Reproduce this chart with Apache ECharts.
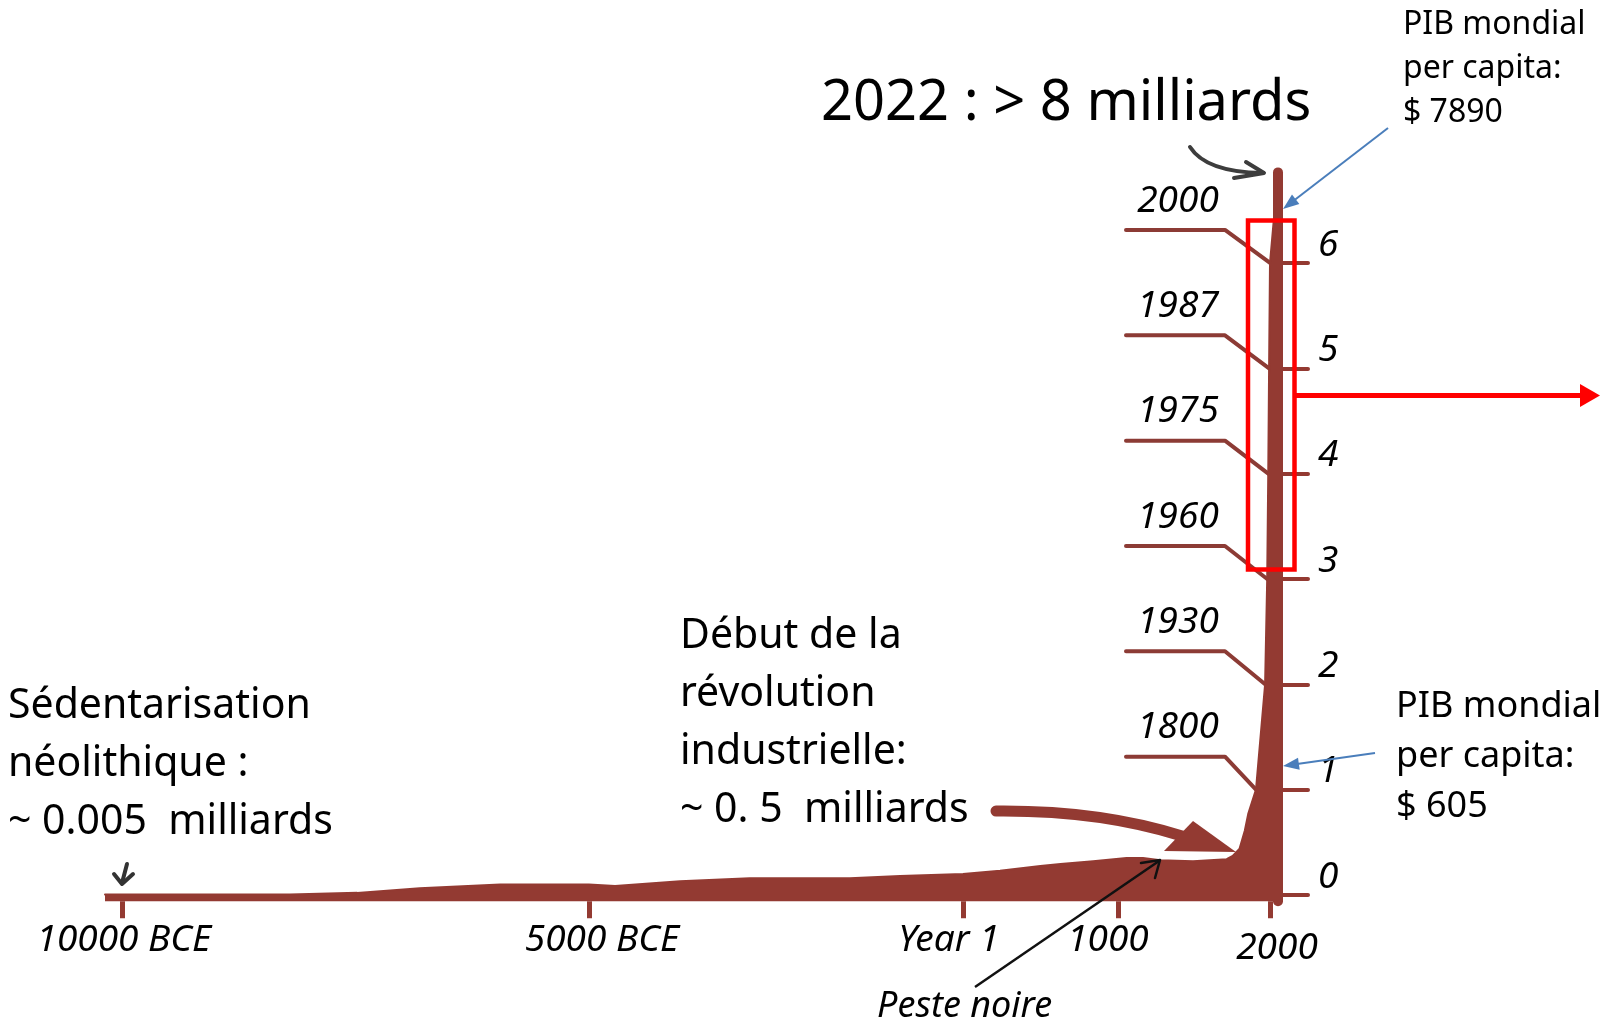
<!DOCTYPE html>
<html>
<head>
<meta charset="utf-8">
<title>Population mondiale</title>
<script src="https://cdn.jsdelivr.net/npm/echarts@6/dist/echarts.min.js"></script>
<style>
  html, body { margin: 0; padding: 0; background: #fff; }
  #chart { width: 1600px; height: 1022px; }
</style>
</head>
<body>
<div id="chart"></div>
<script>
// population mondiale (milliards)
var popYears = [-10180, -10000, -8200, -7480, -6810, -5950, -5000, -4650, -3780, -2850, -1510, -840, 1, 240, 500, 630, 840, 1050, 1145, 1245, 1435, 1630, 1665, 1705, 1735, 1755, 1800, 1930, 1960, 1975, 1987, 2000, 2022]
var popValues = [0.005, 0.005, 0.005, 0.02, 0.065, 0.10, 0.10, 0.085, 0.13, 0.16, 0.16, 0.18, 0.20, 0.23, 0.275, 0.295, 0.32, 0.35, 0.35, 0.33, 0.32, 0.34, 0.37, 0.44, 0.61, 0.77, 1, 2, 3, 4, 5, 6, 6.86]

// repères sur la courbe
var milestoneYears = [1800, 1930, 1960, 1975, 1987, 2000]
var milestonePop = [1, 2, 3, 4, 5, 6]

// axes
var tickYears = [-10000, -5000, 1, 1000, 2000]
var tickLabels = ['10000 BCE', '5000 BCE', 'Year 1', '1000', '2000']
var popTicks = [0, 1, 2, 3, 4, 5, 6]

// echelle du temps dessinee a la main (non lineaire)
var scaleYears = [-10000, -5000, 1, 1000, 1800, 2000, 2022]
var scaleUnits = [0, 467, 841, 996, 1134, 1148, 1156]

function toX (year) {
  var n = scaleYears.length
  var i = 0
  while (i < n - 2 && year > scaleYears[i + 1]) i++
  var t = (year - scaleYears[i]) / (scaleYears[i + 1] - scaleYears[i])
  return scaleUnits[i] + t * (scaleUnits[i + 1] - scaleUnits[i])
}

function head (tip, from, len, half) {
  var dx = tip[0] - from[0]
  var dy = tip[1] - from[1]
  var d = Math.sqrt(dx * dx + dy * dy)
  var ux = dx / d
  var uy = dy / d
  var bx = tip[0] - ux * len
  var by = tip[1] - uy * len
  return [tip, [bx - uy * half, by + ux * half], [bx + uy * half, by - ux * half]]
}

var brown = '#933a32'
var font = '"Noto Sans", "DejaVu Sans", sans-serif'
var tickVals = tickYears.map(toX)
var labelRich = ['l0', 'l1', 'l2', 'l3', 'l4']
var richPad = [[0, 0, 0, 4], [0, 0, 0, 26], [0, 28, 0, 0], [0, 20, 0, 0], [16, 0, 0, 14]]
var rich = {}
labelRich.forEach(function (k, i) {
  rich[k] = {padding: richPad[i], fontSize: 37, fontStyle: 'italic', fontFamily: font, color: '#000', lineHeight: 37}
})

var chart = echarts.init(document.getElementById('chart'))

var option = {
  backgroundColor: '#fff',
  animation: false,
  grid: {left: 105, right: 322, top: 172.4, bottom: 120.7},
  xAxis: {
    type: 'value',
    min: toX(-10180),
    max: toX(2022),
    axisLine: {show: false, onZero: false},
    splitLine: {show: false},
    axisTick: {show: true, customValues: tickVals, length: 17, lineStyle: {color: brown, width: 5}},
    axisLabel: {
      customValues: tickVals,
      margin: 21,
      verticalAlign: 'top',
      formatter: function (v) {
        for (var i = 0; i < tickVals.length; i++) {
          if (Math.abs(tickVals[i] - v) < 0.5) return '{' + labelRich[i] + '|' + tickLabels[i] + '}'
        }
        return ''
      },
      rich: rich
    }
  },
  yAxis: {
    type: 'value',
    position: 'right',
    min: -0.06,
    max: 6.86,
    axisLine: {show: true, onZero: false, lineStyle: {color: brown, width: 10}},
    splitLine: {show: false},
    axisTick: {show: true, customValues: popTicks, length: 30, lineStyle: {color: brown, width: 4, cap: 'round'}},
    axisLabel: {
      customValues: popTicks,
      margin: 40,
      verticalAlign: 'bottom',
      lineHeight: 36,
      fontSize: 37,
      fontStyle: 'italic',
      fontFamily: font,
      color: '#000'
    }
  },
  series: [
    {
      type: 'line',
      z: 3,
      silent: true,
      showSymbol: false,
      data: popYears.map(function (y, i) { return [toX(y), popValues[i]] }),
      lineStyle: {color: brown, width: 2, cap: 'round', join: 'round'},
      areaStyle: {color: brown, opacity: 1, origin: 'start'}
    },
    {
      type: 'custom',
      z: 2,
      silent: true,
      data: milestoneYears.map(function (y, i) { return [toX(y), milestonePop[i]] }),
      renderItem: function (params, api) {
        var p = api.coord([api.value(0), api.value(1)])
        var right = params.coordSys.x + params.coordSys.width
        return {
          type: 'group',
          children: [
            {
              type: 'polyline',
              shape: {points: [[right - 152, p[1] - 33], [right - 53, p[1] - 33], p]},
              style: {stroke: '#8c3b35', lineWidth: 4, fill: null, lineCap: 'round', lineJoin: 'round'}
            },
            {
              type: 'text',
              style: {
                x: right - 100,
                y: p[1] - 62,
                text: String(milestoneYears[params.dataIndex]),
                font: 'italic 37px ' + font,
                fill: '#000',
                align: 'center',
                verticalAlign: 'middle'
              }
            }
          ]
        }
      }
    }
  ],
  graphic: [
    {type: 'text', z: 10, style: {x: 821, y: 104, text: '2022 : > 8 milliards', font: '56px ' + font, fill: '#000', verticalAlign: 'middle'}},
    {type: 'text', z: 10, style: {x: 1403, y: 3, text: 'PIB mondial\nper capita:\n$ 7890', font: '32px ' + font, lineHeight: 44, fill: '#000', verticalAlign: 'top'}},
    {type: 'text', z: 10, style: {x: 1396, y: 682, text: 'PIB mondial\nper capita:\n$ 605', font: '36px ' + font, lineHeight: 50, fill: '#000', verticalAlign: 'top'}},
    {type: 'text', z: 10, style: {x: 8, y: 677, text: 'Sédentarisation\nnéolithique :\n~ 0.005  milliards', font: '41px ' + font, lineHeight: 58, fill: '#000', verticalAlign: 'top'}},
    {type: 'text', z: 10, style: {x: 680, y: 607, text: 'Début de la\nrévolution\nindustrielle:\n~ 0. 5  milliards', font: '41px ' + font, lineHeight: 58, fill: '#000', verticalAlign: 'top'}},
    {type: 'text', z: 10, style: {x: 877, y: 1007, text: 'Peste noire', font: 'italic 36px ' + font, fill: '#000', verticalAlign: 'middle'}},
    // petite fleche 10000 BCE
    {type: 'polyline', z: 10, shape: {points: [[127, 864], [122, 883]]}, style: {stroke: '#333', lineWidth: 4, lineCap: 'round'}},
    {type: 'polyline', z: 10, shape: {points: [[114, 874], [122, 884], [133, 874]]}, style: {stroke: '#333', lineWidth: 4, fill: null, lineCap: 'round', lineJoin: 'round'}},
    // fleche courbe vers 2022
    {type: 'bezierCurve', z: 10, shape: {x1: 1190, y1: 147, cpx1: 1206, cpy1: 172, x2: 1262, y2: 173}, style: {stroke: '#3d3d3d', lineWidth: 4, fill: null, lineCap: 'round'}},
    {type: 'polyline', z: 10, shape: {points: [[1246, 162], [1264, 173], [1234, 178]]}, style: {stroke: '#3d3d3d', lineWidth: 4, fill: null, lineCap: 'round', lineJoin: 'round'}},
    // fleches bleues PIB
    {type: 'line', z: 10, shape: {x1: 1388, y1: 128, x2: 1292, y2: 202}, style: {stroke: '#4a7ebb', lineWidth: 2}},
    {type: 'polygon', z: 10, shape: {points: head([1283, 209], [1388, 128], 16, 6)}, style: {fill: '#4a7ebb'}},
    {type: 'line', z: 10, shape: {x1: 1375, y1: 753, x2: 1297, y2: 764}, style: {stroke: '#4a7ebb', lineWidth: 2}},
    {type: 'polygon', z: 10, shape: {points: head([1283, 766], [1375, 753], 16, 6)}, style: {fill: '#4a7ebb'}},
    // encadre rouge
    {type: 'rect', z: 10, shape: {x: 1248, y: 220.5, width: 46.5, height: 349}, style: {stroke: '#ff0000', lineWidth: 4.5, fill: null}},
    {type: 'line', z: 10, shape: {x1: 1296, y1: 395.5, x2: 1582, y2: 395.5}, style: {stroke: '#ff0000', lineWidth: 5}},
    {type: 'polygon', z: 10, shape: {points: [[1600, 395.5], [1580, 384], [1580, 407]]}, style: {fill: '#ff0000'}},
    // fleche brune revolution industrielle
    {type: 'bezierCurve', z: 10, shape: {x1: 996, y1: 811, cpx1: 1100, cpy1: 810, x2: 1182, y2: 836}, style: {stroke: brown, lineWidth: 11, fill: null, lineCap: 'round'}},
    {type: 'polygon', z: 10, shape: {points: [[1193, 821], [1236, 852], [1164, 851]]}, style: {fill: brown}},
    // fleche peste noire
    {type: 'line', z: 10, shape: {x1: 975, y1: 987, x2: 1159, y2: 861}, style: {stroke: '#111', lineWidth: 2.5}},
    {type: 'polyline', z: 10, shape: {points: [[1141, 863], [1160, 860], [1155, 878]]}, style: {stroke: '#111', lineWidth: 2.5, fill: null, lineCap: 'round', lineJoin: 'round'}}
  ]
}

chart.setOption(option)
window.addEventListener('resize', function () { chart.resize() })
</script>
</body>
</html>
